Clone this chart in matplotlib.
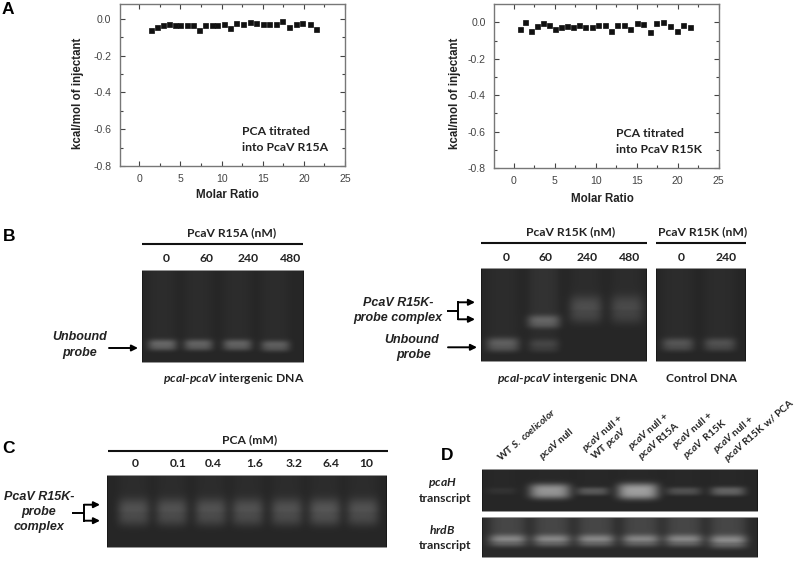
import numpy as np
import matplotlib
matplotlib.use('Agg')
import matplotlib.pyplot as plt

plt.rcParams['mathtext.fontset'] = 'custom'
plt.rcParams['mathtext.rm'] = 'Lato:bold'
plt.rcParams['mathtext.it'] = 'Lato:italic:bold'
plt.rcParams['mathtext.bf'] = 'Lato:bold'

# itc data
x_r15a = [1.4,2.1,2.9,3.6,4.3,5.0,5.8,6.5,7.3,8.0,8.8,9.5,10.3,11.0,11.8,12.6,13.4,14.2,15.0,15.8,16.6,17.4,18.2,19.0,19.8,20.7,21.5]
y_r15a = [-.062,-.047,-.034,-.027,-.034,-.033,-.033,-.033,-.063,-.034,-.034,-.034,-.027,-.052,-.025,-.027,-.018,-.023,-.031,-.029,-.029,-.011,-.044,-.029,-.022,-.029,-.054]
x_r15k = [.7,1.4,2.1,2.8,3.6,4.3,5.0,5.8,6.5,7.2,8.0,8.7,9.5,10.3,11.1,11.8,12.6,13.4,14.2,15.0,15.8,16.6,17.4,18.2,19.0,19.9,20.7,21.5]
y_r15k = [-.038,.002,-.046,-.018,-.005,-.016,-.037,-.027,-.022,-.027,-.016,-.024,-.026,-.016,-.016,-.046,-.013,-.016,-.035,-.002,-.011,-.055,-.004,0,-.020,-.046,-.015,-.027]

# gel lane labels
b1_labels = ['0', '60', '240', '480']
b3_labels = ['0', '240']
c_labels = ['0', '0.1', '0.4', '1.6', '3.2', '6.4', '10']

# gel bands: centre x, centre y, width, height, brightness (page pixels)
b1_bands = [(162,345,29,11,60), (198,345,29,11,56), (237,345,29,11,56), (275,346,29,11,52)]
b2_bands = [(503,345,33,14,52), (544,346,30,13,26), (544,322,33,13,52), (586,310,33,27,34), (627,310,33,28,30)]
b3_bands = [(678,345,32,13,42), (720,345,32,13,38)]
c_bands = [(134,513,32,27,38), (172,513,32,27,38), (211,513,32,27,38), (248,513,32,27,38), (287,513,32,27,38), (325,513,32,27,42), (363,513,32,27,38)]
d1_bands = [(502,492,30,7,12), (550,492,41,15,110), (593,492,32,8,50), (638,492,41,16,120), (684,492,35,8,42), (728,492,35,9,60)]
d2_bands = [(508,541,38,12,66), (552,541,38,12,66), (596,541,38,12,66), (641,541,38,12,64), (684,541,38,12,66), (728,542,38,13,70)]


def gel(ax, left, right, top, bottom, bands, base=38, smear=6):
	xs = np.arange(left, right) + 0.5
	ys = np.arange(top, bottom) + 0.5
	xx, yy = np.meshgrid(xs, ys)
	img = np.full(xx.shape, float(base))
	for cx, cy, w, h, b in bands:
		shape_x = np.exp(-(np.abs(xx - cx) / (w / 2)) ** 4)
		shape_y = np.exp(-(np.abs(yy - cy) / (h / 2)) ** 3)
		img += b * shape_x * shape_y
		# faint lane running up from the band
		img += smear * shape_x * (yy < cy)
	kernel = np.ones(3) / 3
	img = np.apply_along_axis(lambda r: np.convolve(r, kernel, mode='same'), 0, img)
	img = np.apply_along_axis(lambda r: np.convolve(r, kernel, mode='same'), 1, img)
	img[0, :] = img[-1, :] = 150
	ax.imshow(img, cmap='gray', vmin=0, vmax=255, extent=(left, right, bottom, top),
		aspect='auto', interpolation='bilinear', zorder=2)


def itc(rect, x, y, y0_px, xlabel_pos, ylabel_pos, note_pos, note):
	left, right, top, bottom = rect
	a = fig.add_axes([left / 800, 1 - bottom / 561, (right - left) / 800, (bottom - top) / 561])
	a.patch.set_visible(False)
	a.plot(x, y, 's', color='#111111', ms=3.6, mew=0.5, clip_on=False)
	a.set_xlim(-2.4, 25)
	a.set_ylim(-0.8, (y0_px - top) / (bottom - y0_px) * 0.8)
	a.set_xticks([0, 5, 10, 15, 20, 25])
	a.set_xticks(np.arange(-2.5, 25, 2.5)[1:], minor=True)
	a.set_yticks([0, -.2, -.4, -.6, -.8])
	a.set_yticklabels(['0.0', '-0.2', '-0.4', '-0.6', '-0.8'])
	a.set_yticks([-.1, -.3, -.5, -.7], minor=True)
	a.tick_params(which='both', top=True, right=True, direction='in', width=0.8, color='#444444',
		labelsize=7.6, labelcolor='#444444')
	a.tick_params(which='major', length=3.5, pad=6)
	a.tick_params(which='minor', length=2)
	for s in a.spines.values():
		s.set_color('#777777')
		s.set_linewidth(1.0)
	for t in a.get_xticklabels() + a.get_yticklabels():
		t.set_family('Liberation Sans')
	bg.text(xlabel_pos[0], xlabel_pos[1], 'Molar Ratio', ha='center', va='center', family='Liberation Sans',
		weight='bold', fontsize=8.3, color='#222222')
	bg.text(ylabel_pos[0], ylabel_pos[1], 'kcal/mol of injectant', ha='center', va='center', rotation=90,
		family='Liberation Sans', weight='bold', fontsize=8.3, color='#222222')
	bg.text(note_pos[0], note_pos[1], note[0], ha='left', va='center', family='Lato', weight='bold', fontsize=8.8, color='#222222')
	bg.text(note_pos[0], note_pos[1] + 16.5, note[1], ha='left', va='center', family='Lato', weight='bold', fontsize=8.8, color='#222222')


def head(x0, x1, yline, title, tx, ty, labels, lx, ly):
	bg.plot([x0, x1], [yline, yline], color='#111111', lw=1.5, solid_capstyle='butt')
	bg.text(tx, ty, title, ha='center', va='center', family='Lato', weight='bold', fontsize=8.7, color='#222222')
	for lab, x in zip(labels, lx):
		bg.text(x, ly, lab, ha='center', va='center', family='Lato', weight='bold', fontsize=8.7, color='#222222')


def arrow(x0, x1, y):
	bg.annotate('', xy=(x1, y), xytext=(x0, y), arrowprops=dict(arrowstyle='-|>', color='black', lw=1.4,
		mutation_scale=9, shrinkA=0, shrinkB=0))


def fork(x0, xv, x1, ym, y0, y1):
	bg.plot([x0, xv], [ym, ym], color='black', lw=1.4, solid_capstyle='butt')
	bg.plot([xv, xv], [y0, y1], color='black', lw=1.4, solid_capstyle='projecting')
	arrow(xv, x1, y0)
	arrow(xv, x1, y1)


def side(x, y, s):
	bg.text(x, y, s, ha='center', va='center', family='Liberation Sans', style='italic', weight='bold',
		fontsize=9, color='#222222')


fig = plt.figure(figsize=(8, 5.61), dpi=100)
bg = fig.add_axes([0, 0, 1, 1])
bg.set_xlim(0, 800)
bg.set_ylim(561, 0)
bg.axis('off')

# A
itc((119.5, 345, 3.5, 166), x_r15a, y_r15a, 18.7, (227, 194.7), (78, 93), (241.7, 131), ('PCA titrated', 'into PcaV R15A'))
itc((494.3, 718.7, 4, 168), x_r15k, y_r15k, 22.3, (602, 199), (455, 93), (616, 133), ('PCA titrated', 'into PcaV R15K'))

# B
gel(bg, 141.5, 303, 270, 362.7, b1_bands)
gel(bg, 481, 647, 268.3, 362, b2_bands)
gel(bg, 656, 746, 268.3, 362, b3_bands)
head(141.5, 303, 244.3, 'PcaV R15A (nM)', 232, 233, b1_labels, [166, 206, 248, 291], 258.7)
head(481, 647, 242.7, 'PcaV R15K (nM)', 571, 232, b1_labels, [506, 545.7, 587, 630], 257)
head(656, 746, 242.7, 'PcaV R15K (nM)', 703, 232, b3_labels, [681, 725.7], 257)
note_kw = dict(ha='center', va='center', family='Lato', weight='bold', fontsize=8.7, color='#222222')
bg.text(234, 378, r'$\mathit{pcaI}$-$\mathit{pcaV}$ intergenic DNA', **note_kw)
bg.text(568, 378, r'$\mathit{pcaI}$-$\mathit{pcaV}$ intergenic DNA', **note_kw)
bg.text(701, 378, 'Control DNA', **note_kw)
side(80, 337, 'Unbound')
side(80, 353, 'probe')
arrow(109, 138, 348)
side(398, 302.7, 'PcaV R15K-')
side(398, 318, 'probe complex')
side(412, 340, 'Unbound')
side(414, 355, 'probe')
fork(446.7, 458, 475, 310.7, 302.3, 319.3)
arrow(448, 477, 347.3)

# C
gel(bg, 107, 386.7, 475.7, 548, c_bands)
head(108, 388, 450.7, 'PCA (mM)', 250, 440, c_labels, [135, 177.7, 213, 255, 294, 331, 366.7], 463.7)
side(39, 496.7, 'PcaV R15K-')
side(39, 511.7, 'probe')
side(39, 527, 'complex')
fork(72, 84, 100, 512.7, 504.7, 520.7)

# D
gel(bg, 482, 757.3, 469.7, 512, d1_bands, smear=2)
gel(bg, 482, 757.3, 517.3, 558.3, d2_bands, base=42, smear=28)
bg.text(442, 482.7, r'$\mathit{pcaH}$', **note_kw)
bg.text(445, 498, 'transcript', **note_kw)
bg.text(442, 529, r'$\mathit{hrdB}$', **note_kw)
bg.text(445, 545.6, 'transcript', **note_kw)

d_labels = [
	(245, 190, r'WT $\mathit{S.\ coelicolor}$'),
	(375, 190, r'$\mathit{pcaV}$ null'),
	(503, 165, r'$\mathit{pcaV}$ null +'),
	(530, 190, r'WT $\mathit{pcaV}$'),
	(643, 158, r'$\mathit{pcaV}$ null +'),
	(672, 190, r'$\mathit{pcaV}$ R15A'),
	(773, 155, r'$\mathit{pcaV}$ null +'),
	(808, 185, r'$\mathit{pcaV}$  R15K'),
	(897, 168, r'$\mathit{pcaV}$ null +'),
	(930, 195, r'$\mathit{pcaV}$ R15K w/ PCA'),
]
for px, py, s in d_labels:
	bg.text(420 + px / 3, 400 + py / 3, s, rotation=41, rotation_mode='anchor', ha='left', va='bottom',
		family='Lato', weight='bold', fontsize=7.3, color='#222222')

# panel letters
for x, y, s in [(2, 9, 'A'), (3, 236, 'B'), (2, 448, 'C'), (441, 455, 'D')]:
	bg.text(x, y, s, ha='left', va='center', family='Liberation Sans', weight='bold', fontsize=12.5, color='black')

bg.set_xlim(0, 800)
bg.set_ylim(561, 0)
fig.savefig('out.png', dpi=100)
